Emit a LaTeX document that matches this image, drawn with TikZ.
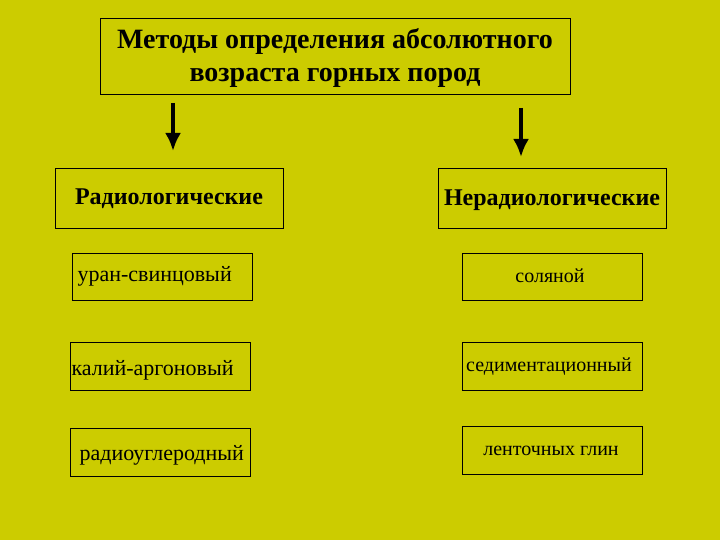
\documentclass[tikz,border=0pt]{standalone}
\usepackage{fontspec}
\setmainfont{Liberation Serif}
\usetikzlibrary{arrows.meta}
\definecolor{bg}{RGB}{204,204,0}
\begin{document}
\begin{tikzpicture}[x=1pt,y=-1pt,
  box/.style={draw=black,line width=0.7pt},
  lbl/.style={font=\fontsize{22}{24}\selectfont},
  rlbl/.style={font=\fontsize{20}{22}\selectfont},
  arr/.style={line width=3.5pt,-{Latex[length=18pt,width=16pt]}}]
\fill[bg] (0,0) rectangle (720,540);
\useasboundingbox (0,0) rectangle (720,540);
\draw[box] (100,18) rectangle (570,94);
\node[align=center,font=\fontsize{28}{33}\selectfont\bfseries] (t) at (335,58) {Методы определения абсолютного\\возраста горных пород};
\coordinate (a1) at (173,103); \coordinate (a2) at (173,151);
\coordinate (b1) at (521,108); \coordinate (b2) at (521,157);
\draw[arr] (a1) -- (a2);
\draw[arr] (b1) -- (b2);
\draw[box] (55,168) rectangle (283,228);
\node[font=\fontsize{24}{26}\selectfont\bfseries] (r) at (169,199) {Радиологические};
\draw[box] (438,168) rectangle (666,228);
\node[font=\fontsize{24}{26}\selectfont\bfseries] (n) at (552,200) {Нерадиологические};
\draw[box] (72,253) rectangle (252,300);
\node[lbl,anchor=west] (u) at (74,276) {уран-свинцовый};
\draw[box] (70,342) rectangle (250,390);
\node[lbl,anchor=west] (k) at (68,370) {калий-аргоновый};
\draw[box] (70,428) rectangle (250,476);
\node[lbl,anchor=west] (rc) at (76,455) {радиоуглеродный};
\draw[box] (462,253) rectangle (642,300);
\node[rlbl] (s) at (550,276) {соляной};
\draw[box] (462,342) rectangle (642,390);
\node[rlbl] (sd) at (549,367) {седиментационный};
\draw[box] (462,426) rectangle (642,474);
\node[rlbl] (l) at (551,451) {ленточных глин};
\end{tikzpicture}
\end{document}
